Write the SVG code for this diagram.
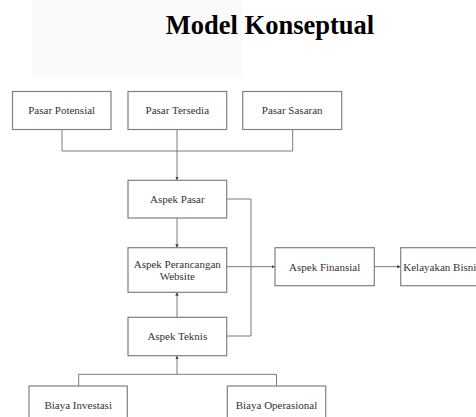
<svg xmlns="http://www.w3.org/2000/svg" width="476" height="417" viewBox="0 0 476 417">
<defs>
<style>
.box{fill:#fff;stroke:#808080;stroke-width:1.2}
.lbl{font-family:"Liberation Serif","Times New Roman",serif;font-size:11px;fill:#333;text-anchor:middle}
.con{fill:none;stroke:#7a7a7a;stroke-width:1}
.title{font-family:"Liberation Serif","Times New Roman",serif;font-size:26.5px;font-weight:bold;fill:#000;text-anchor:middle}
</style>
<marker id="ah" viewBox="0 0 6 6" refX="6" refY="3" markerWidth="3.5" markerHeight="3.5" orient="auto" markerUnits="userSpaceOnUse">
<path d="M0,0 L6,3 L0,6 Z" fill="#444"/>
</marker>
</defs>
<rect x="0" y="0" width="476" height="417" fill="#fff"/>
<rect x="32" y="0" width="211" height="77" fill="#fafafa"/>
<text class="title" x="270" y="33.5">Model Konseptual</text>

<g id="connectors">
<path class="con" d="M62,129.3 V151 M177,129.3 V151 M292.7,129.3 V151 M62,151 H292.7"/>
<path class="con" d="M177,151 V180.3" marker-end="url(#ah)"/>
<path class="con" d="M177,218 V247.7" marker-end="url(#ah)"/>
<path class="con" d="M226.7,199 H251 V336 H226.7"/>
<path class="con" d="M226.7,266.7 H275" marker-end="url(#ah)"/>
<path class="con" d="M374.3,266.7 H400.7" marker-end="url(#ah)"/>
<path class="con" d="M177,317.3 V292.3" marker-end="url(#ah)"/>
<path class="con" d="M78.7,386 V374.3 H276.5 V386"/>
<path class="con" d="M177,374.3 V355.7" marker-end="url(#ah)"/>
</g>

<g id="pasar-potensial"><rect class="box" x="12.5" y="91.5" width="98.5" height="38"/><text class="lbl" x="61.7" y="114">Pasar Potensial</text></g>
<g id="pasar-tersedia"><rect class="box" x="128" y="91.5" width="98.7" height="38"/><text class="lbl" x="177.3" y="114">Pasar Tersedia</text></g>
<g id="pasar-sasaran"><rect class="box" x="242.7" y="91.5" width="99" height="38"/><text class="lbl" x="292.2" y="114">Pasar Sasaran</text></g>
<g id="aspek-pasar"><rect class="box" x="128" y="180.3" width="98.7" height="37.7"/><text class="lbl" x="177.3" y="203">Aspek Pasar</text></g>
<g id="aspek-perancangan"><rect class="box" x="128" y="247.7" width="98.7" height="44.6"/><text class="lbl" x="177.3" y="267.5">Aspek Perancangan</text><text class="lbl" x="177.3" y="280">Website</text></g>
<g id="aspek-teknis"><rect class="box" x="128" y="317.3" width="98.7" height="38.4"/><text class="lbl" x="177.3" y="340">Aspek Teknis</text></g>
<g id="aspek-finansial"><rect class="box" x="275" y="247.7" width="99.3" height="38"/><text class="lbl" x="324.7" y="270.5">Aspek Finansial</text></g>
<g id="kelayakan-bisnis"><rect class="box" x="400.7" y="247.7" width="99" height="38"/><text class="lbl" x="403.3" y="270.5" style="text-anchor:start">Kelayakan Bisnis</text></g>
<g id="biaya-investasi"><rect class="box" x="29" y="386" width="98.3" height="38"/><text class="lbl" x="78.2" y="408.5">Biaya Investasi</text></g>
<g id="biaya-operasional"><rect class="box" x="227.3" y="386" width="98.4" height="38"/><text class="lbl" x="276.5" y="408.5">Biaya Operasional</text></g>
</svg>
